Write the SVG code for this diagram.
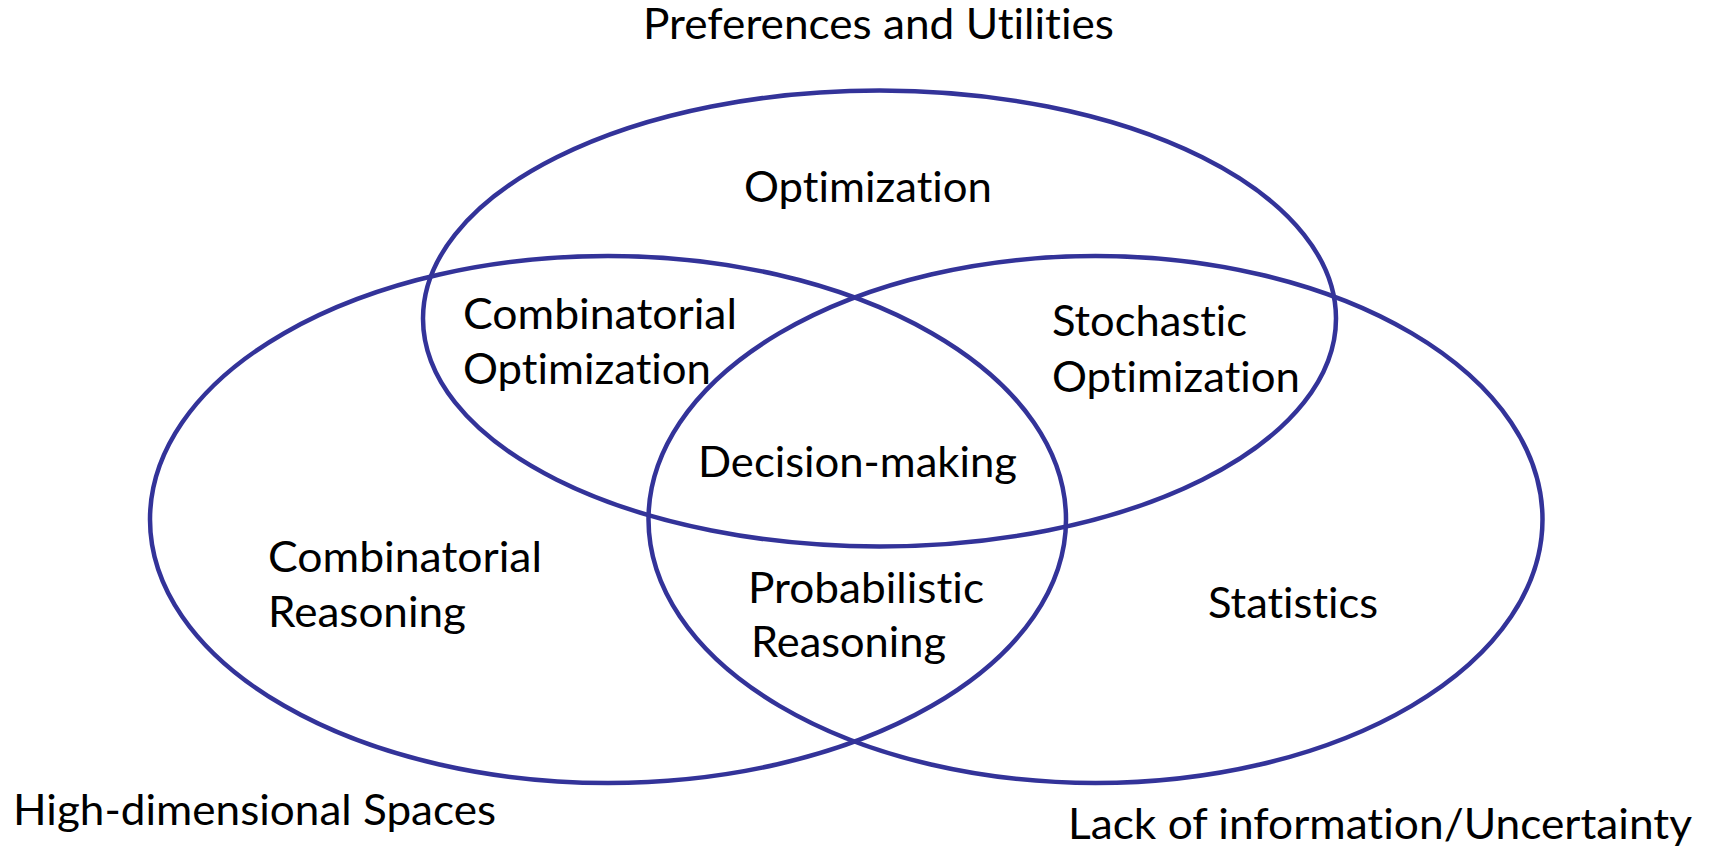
<svg xmlns="http://www.w3.org/2000/svg" width="1709" height="852" viewBox="0 0 1709 852">
<style>
.e{fill:none;stroke:#333399;stroke-width:4.5}
text{font-family:Lato,"Open Sans","Liberation Sans",sans-serif;font-size:43px;fill:#000;font-variant-ligatures:none;font-feature-settings:"liga" 0,"clig" 0}
</style>
<rect width="1709" height="852" fill="#fff"/>
<g id="connectors"/>
<g id="optimization-set">
<ellipse class="e" cx="879.5" cy="318.5" rx="456.5" ry="228"/>
</g>
<g id="combinatorial-set">
<ellipse class="e" cx="608" cy="519.5" rx="458" ry="263.5"/>
</g>
<g id="statistics-set">
<ellipse class="e" cx="1095.5" cy="519.5" rx="447" ry="263.5"/>
</g>
<g id="label-preferences"><text x="643" y="39" textLength="471" lengthAdjust="spacingAndGlyphs">Preferences and Utilities</text></g>
<g id="label-optimization"><text x="744" y="202" textLength="248" lengthAdjust="spacingAndGlyphs">Optimization</text></g>
<g id="label-comb-opt"><text x="463" y="329" textLength="274" lengthAdjust="spacingAndGlyphs">Combinatorial</text><text x="463" y="384" textLength="248" lengthAdjust="spacingAndGlyphs">Optimization</text></g>
<g id="label-stoch-opt"><text x="1052" y="336" textLength="195" lengthAdjust="spacingAndGlyphs">Stochastic</text><text x="1052" y="392" textLength="248" lengthAdjust="spacingAndGlyphs">Optimization</text></g>
<g id="label-decision"><text x="698" y="477" textLength="319" lengthAdjust="spacingAndGlyphs">Decision-making</text></g>
<g id="label-comb-reason"><text x="268" y="572" textLength="274" lengthAdjust="spacingAndGlyphs">Combinatorial</text><text x="268" y="627" textLength="198" lengthAdjust="spacingAndGlyphs">Reasoning</text></g>
<g id="label-prob-reason"><text x="748" y="603" textLength="236" lengthAdjust="spacingAndGlyphs">Probabilistic</text><text x="751" y="657" textLength="195" lengthAdjust="spacingAndGlyphs">Reasoning</text></g>
<g id="label-statistics"><text x="1208" y="618" textLength="170" lengthAdjust="spacingAndGlyphs">Statistics</text></g>
<g id="label-high-dim"><text x="13" y="825" textLength="483" lengthAdjust="spacingAndGlyphs">High-dimensional Spaces</text></g>
<g id="label-uncertainty"><text x="1068" y="839" textLength="624" lengthAdjust="spacingAndGlyphs">Lack of information/Uncertainty</text></g>
</svg>
